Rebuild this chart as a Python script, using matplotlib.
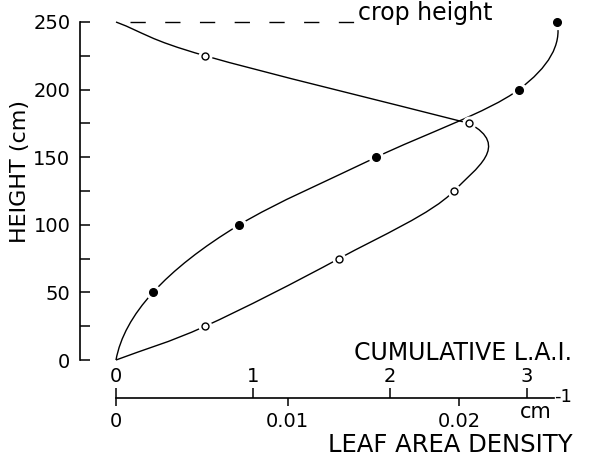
import matplotlib
matplotlib.use("Agg")
import matplotlib.pyplot as plt
import numpy as np
from matplotlib.path import Path
from matplotlib.patches import PathPatch

# cumulative leaf area index (filled points)
cum_height = [0, 50, 100, 150, 200, 250]
cum_lai = [0, 0.27, 0.90, 1.90, 2.94, 3.22]

# leaf area density, cm^-1 (open points)
den_height = [0, 25, 75, 125, 175, 225, 250]
den_value = [0, 0.0052, 0.0130, 0.0197, 0.0206, 0.0052, 0]

crop_height = 250
lai_ticks = [0, 1, 2, 3]
den_ticks = [0, 0.01, 0.02]
den_ticklabels = ["0", "0.01", "0.02"]
height_ticks = [0, 50, 100, 150, 200, 250]

# 0.01 cm^-1 of density sits at LAI 1.25 on the shared bottom line
DEN_TO_LAI = 125.2


def den2lai(d):
    return np.asarray(d) * DEN_TO_LAI


def lai2den(v):
    return np.asarray(v) / DEN_TO_LAI


def smooth_path(xs, ys, ends="quad", after=None):
    # cubic bezier through every point (catmull-rom tangents)
    pts = np.column_stack([xs, ys]).astype(float)
    tan = np.zeros_like(pts)
    tan[1:-1] = (pts[2:] - pts[:-2]) / 2
    if ends == "quad":
        tan[0] = 2 * (pts[1] - pts[0]) - tan[1]
        tan[-1] = 2 * (pts[-1] - pts[-2]) - tan[-2]
    else:
        tan[0] = pts[1] - pts[0]
        tan[-1] = pts[-1] - pts[-2]
    if after is not None:
        tan[-1] = (np.asarray(after, float) - pts[-2]) / 2
    verts = [pts[0]]
    codes = [Path.MOVETO]
    for i in range(len(pts) - 1):
        verts += [pts[i] + tan[i] / 3, pts[i + 1] - tan[i + 1] / 3, pts[i + 1]]
        codes += [Path.CURVE4] * 3
    return Path(verts, codes)


W, H = 597, 459
fig = plt.figure(figsize=(W / 100, H / 100), dpi=100)
# pixel layout: LAI 0 at x=116, 137 px per unit; height 0 at y=360, 1.352 px per cm
ax = fig.add_axes([80 / W, (H - 398) / H, 510 / W, 390 / H])
ax.set_xlim((80 - 116) / 137, (590 - 116) / 137)
ax.set_ylim(-38 / 1.352, 352 / 1.352)
ax.patch.set_visible(False)

lw = 1.0
ax.add_patch(PathPatch(smooth_path(cum_lai, cum_height), fill=False, lw=lw, color="black"))

den_x = den2lai(den_value)
# density curve: bulge up to the 175 cm point, then a separate upper limb
ax.add_patch(PathPatch(smooth_path(den_x[:5], den_height[:5], ends="chord",
                                   after=(den_x[5], den_height[5])),
                       fill=False, lw=lw, color="black"))
ax.add_patch(PathPatch(smooth_path(den_x[4:], den_height[4:], ends="chord"),
                       fill=False, lw=lw, color="black"))

# white halo so the curves break around markers
ax.plot(cum_lai[1:], cum_height[1:], "o", ms=10, color="white", zorder=3, clip_on=False)
ax.plot(cum_lai[1:], cum_height[1:], "o", ms=5.5, color="black", zorder=4, clip_on=False)
ax.plot(den_x[1:-1], den_height[1:-1], "o", ms=9, color="white", zorder=3, clip_on=False)
ax.plot(den_x[1:-1], den_height[1:-1], "o", ms=5, mfc="white", mec="black", mew=1.0,
        zorder=4, clip_on=False)

# crop height marker line
ax.plot([0.1, 1.75], [crop_height, crop_height], color="black", lw=1.0, dashes=(11, 14))
ax.text(1.77, crop_height + 1.5, "crop height", fontsize=17, ha="left", va="baseline")

# axes
for s in ["right", "bottom"]:
    ax.spines[s].set_visible(False)
ax.spines["left"].set_bounds(0, 250)
ax.spines["left"].set_linewidth(1.2)
ax.spines["top"].set_position(("axes", 0))
ax.spines["top"].set_bounds(0, 3.2)
ax.spines["top"].set_linewidth(1.2)

ax.set_yticks(height_ticks)
ax.set_yticks([25, 75, 125, 175, 225], minor=True)
ax.yaxis.set_tick_params(which="both", direction="in", length=7, width=1.1, pad=7, labelsize=14)

ax.xaxis.tick_top()
ax.set_xticks(lai_ticks)
ax.xaxis.set_tick_params(direction="out", length=7, width=1.1, pad=1.5, labelsize=14)

sec = ax.secondary_xaxis("bottom", functions=(lai2den, den2lai))
sec.set_xticks(den_ticks)
sec.set_xticklabels(den_ticklabels)
sec.spines["bottom"].set_visible(False)
sec.xaxis.set_tick_params(direction="out", length=6, width=1.1, pad=4, labelsize=14)

ax.set_ylabel("HEIGHT (cm)", fontsize=16)
ax.yaxis.set_label_coords(-0.098, 0.58)
ax.text(2.53, 0, "CUMULATIVE L.A.I.", fontsize=17, ha="center", va="baseline")
ax.text(2.44, -68, "LEAF AREA DENSITY", fontsize=17.5, ha="center", va="baseline")
ax.text(2.95, -43, "cm", fontsize=15, ha="left", va="baseline")
ax.text(3.2, -31, "-1", fontsize=13, ha="left", va="baseline")

fig.savefig("out.png", dpi=100)
